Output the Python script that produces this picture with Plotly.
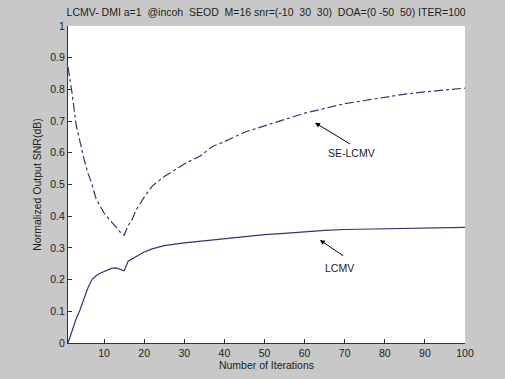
import plotly.graph_objects as go

# SE-LCMV curve (dash-dot)
se_x = [1, 2, 3, 4, 5, 6, 7, 8, 9, 10, 11, 12, 13, 14, 15, 16, 17, 18, 20, 22, 25, 28, 30, 34,
        37, 40, 45, 50, 55, 60, 65, 70, 75, 80, 85, 90, 95, 100]
se_y = [0.87, 0.79, 0.69, 0.63, 0.58, 0.535, 0.50, 0.455, 0.43, 0.41, 0.395, 0.38, 0.365, 0.35,
        0.34, 0.37, 0.39, 0.42, 0.46, 0.495, 0.525, 0.55, 0.565, 0.59, 0.62, 0.635, 0.665, 0.685,
        0.705, 0.725, 0.74, 0.755, 0.765, 0.775, 0.785, 0.792, 0.798, 0.804]

# LCMV curve (solid)
lc_x = [1, 2, 3, 4, 5, 6, 7, 8, 9, 10, 11, 12, 13, 14, 15, 16, 17, 18, 20, 22, 25, 30, 35, 40,
        45, 50, 55, 60, 65, 70, 80, 90, 100]
lc_y = [0.0, 0.04, 0.075, 0.105, 0.14, 0.175, 0.2, 0.212, 0.22, 0.226, 0.232, 0.236, 0.237,
        0.233, 0.228, 0.258, 0.265, 0.272, 0.287, 0.297, 0.307, 0.316, 0.323, 0.33, 0.337, 0.342,
        0.346, 0.351, 0.355, 0.358, 0.361, 0.363, 0.365]

x_ticks = [10, 20, 30, 40, 50, 60, 70, 80, 90, 100]
y_ticks = [0, 0.1, 0.2, 0.3, 0.4, 0.5, 0.6, 0.7, 0.8, 0.9, 1]
y_tick_text = ["0", "0.1", "0.2", "0.3", "0.4", "0.5", "0.6", "0.7", "0.8", "0.9", "1"]

title = ("LCMV- DMI a=1\u00a0 @incoh\u00a0 SEOD\u00a0 M=16 snr=(-10\u00a0 30\u00a0 30)"
         "\u00a0 DOA=(0 -50\u00a0 50) ITER=100")

line_color = "#34346e"
font_family = "Liberation Sans, Arial, sans-serif"

fig = go.Figure()
fig.add_trace(go.Scatter(x=se_x, y=se_y, mode="lines",
                         line=dict(color=line_color, width=1.2, dash="dashdot"),
                         showlegend=False))
fig.add_trace(go.Scatter(x=lc_x, y=lc_y, mode="lines",
                         line=dict(color=line_color, width=1.2),
                         showlegend=False))

fig.add_annotation(x=62.6, y=0.695, ax=71.7, ay=0.625, xref="x", yref="y",
                   axref="x", ayref="y", text="", showarrow=True,
                   arrowhead=2, arrowsize=1, arrowwidth=1, arrowcolor="black")
fig.add_annotation(x=71.7, y=0.60, text="SE-LCMV", showarrow=False,
                   font=dict(size=10.5, color="#222"), xref="x", yref="y")
fig.add_annotation(x=63.8, y=0.325, ax=70.0, ay=0.272, xref="x", yref="y",
                   axref="x", ayref="y", text="", showarrow=True,
                   arrowhead=2, arrowsize=1, arrowwidth=1, arrowcolor="black")
fig.add_annotation(x=68.8, y=0.237, text="LCMV", showarrow=False,
                   font=dict(size=10.5, color="#222"), xref="x", yref="y")

fig.update_layout(
    width=505, height=379,
    paper_bgcolor="#c8c8c8", plot_bgcolor="white",
    margin=dict(l=68, r=40, t=26, b=36),
    font=dict(family=font_family, size=10.5, color="#222"),
    title=dict(text=title, x=0.527, xanchor="center", y=0.968, yanchor="middle",
               font=dict(size=10.5, color="#222")),
)
fig.update_xaxes(range=[1, 100], tickvals=x_ticks, ticks="inside", ticklen=4,
                 tickcolor="#333", showgrid=False, zeroline=False, showline=True,
                 linecolor="#333", linewidth=1, mirror=False,
                 title=dict(text="Number of Iterations", standoff=2,
                            font=dict(size=10.5)))
fig.update_yaxes(range=[0, 1], tickvals=y_ticks, ticktext=y_tick_text, ticks="inside",
                 ticklen=4, tickcolor="#333", showgrid=False, zeroline=False,
                 showline=True, linecolor="#333", linewidth=1, mirror=False,
                 title=dict(text="Normalized Output SNR(dB)", standoff=6,
                            font=dict(size=10.5)))

fig.write_html("out.html", config={"displayModeBar": False},
               post_script="document.body.style.margin='0';document.body.style.overflow='hidden';")
